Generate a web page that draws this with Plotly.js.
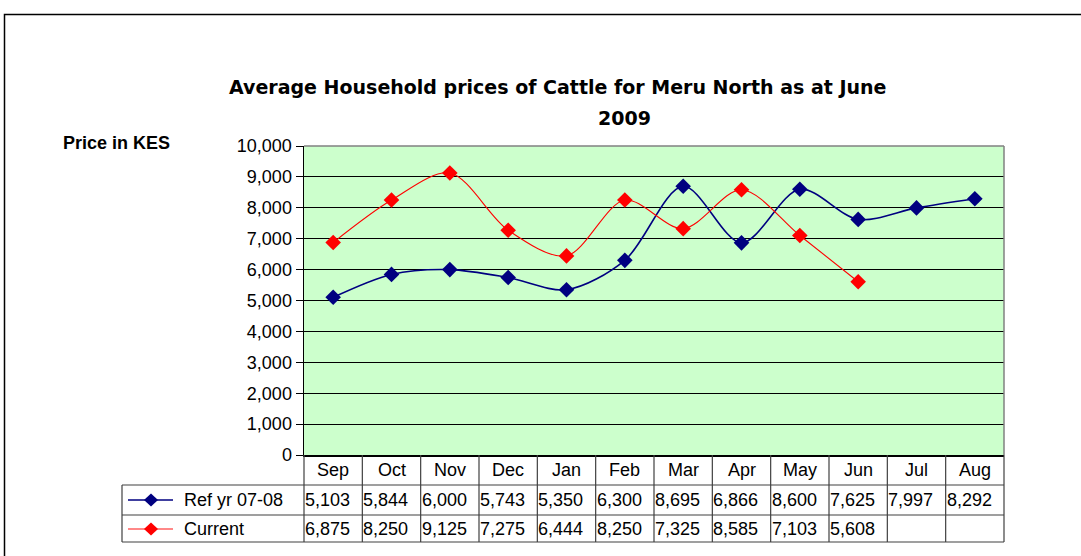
<!DOCTYPE html>
<html>
<head>
<meta charset="utf-8">
<script src="https://cdn.plot.ly/plotly-3.0.1.min.js"></script>
<style>
html,body{margin:0;padding:0;background:#fff;}
#chart{width:1081px;height:556px;}
</style>
</head>
<body>
<div id="chart"></div>
<script>
// ---- data ----
const months = ['Sep','Oct','Nov','Dec','Jan','Feb','Mar','Apr','May','Jun','Jul','Aug'];
const refValues = [5103,5844,6000,5743,5350,6300,8695,6866,8600,7625,7997,8292];
const currentValues = [6875,8250,9125,7275,6444,8250,7325,8585,7103,5608,null,null];
const seriesNames = ['Ref yr 07-08','Current'];
const seriesColors = ['#000080','#FF0000'];
const titleLine1 = 'Average Household prices of Cattle for Meru North as at June';
const titleLine2 = '2009';
const yTitle = 'Price in KES';

// ---- geometry helpers ----
const W = 1081, H = 556;
const L = 304, R = 1004, T = 146, B = 455;
const pw = R - L, ph = B - T;
const px = x => (x - L) / pw;
const py = y => (B - y) / ph;

const font = 'Liberation Sans, Arial, sans-serif';
const fs = 18;
const annotations = [];
const shapes = [];

// title
annotations.push({xref:'paper',yref:'paper',x:px(557),y:py(87),text:'<b>'+titleLine1+'</b>',showarrow:false,
  font:{family:'DejaVu Sans, sans-serif',size:19,color:'#000'},xanchor:'center',yanchor:'middle'});
annotations.push({xref:'paper',yref:'paper',x:px(624),y:py(118),text:'<b>'+titleLine2+'</b>',showarrow:false,
  font:{family:'DejaVu Sans, sans-serif',size:19,color:'#000'},xanchor:'center',yanchor:'middle'});
// y title
annotations.push({xref:'paper',yref:'paper',x:px(61),y:py(143),text:'<b>'+yTitle+'</b>',showarrow:false,
  font:{family:font,size:fs,color:'#000'},xanchor:'left',yanchor:'middle'});

// outer border
shapes.push({type:'rect',xref:'paper',yref:'paper',x0:px(4.5),y0:py(14.5),x1:px(1090),y1:py(570),
  line:{color:'#000',width:1.5},fillcolor:'rgba(0,0,0,0)',layer:'below'});

// table
const tableColor = '#404040';
const n = months.length;
[485,515,542].forEach(yy=>{
  shapes.push({type:'line',xref:'paper',yref:'paper',x0:px(122),x1:1,y0:py(yy),y1:py(yy),line:{color:tableColor,width:1.2}});
});
shapes.push({type:'line',xref:'paper',yref:'paper',x0:px(122),x1:px(122),y0:py(485),y1:py(542),line:{color:tableColor,width:1.2}});
for (let k = 0; k <= n; k++) {
  shapes.push({type:'line',xref:'paper',yref:'paper',x0:k/n,x1:k/n,y0:py(455),y1:py(542),line:{color:tableColor,width:1.2}});
}
// header labels
months.forEach((m,i)=>{
  annotations.push({xref:'x',yref:'paper',x:i,y:py(470),text:m,showarrow:false,
    font:{family:font,size:fs,color:'#000'},xanchor:'center',yanchor:'middle'});
});
const fmt = v => v==null ? '' : v.toLocaleString('en-US');
[refValues,currentValues].forEach((vals,r)=>{
  const yc = r===0 ? 500 : 529;
  vals.forEach((v,i)=>{
    if (v==null) return;
    annotations.push({xref:'x',yref:'paper',x:i-0.5,xshift:-1,y:py(yc),text:fmt(v),showarrow:false,
      font:{family:font,size:fs,color:'#000'},xanchor:'left',yanchor:'middle'});
  });
  // legend key
  shapes.push({type:'line',xref:'paper',yref:'paper',x0:px(128),x1:px(173),y0:py(yc),y1:py(yc),
    line:{color:r===0?seriesColors[0]:'#FF6060',width:1.3}});
  const cx = 151, hw = 7, hh = 6.5;
  shapes.push({type:'path',xref:'paper',yref:'paper',
    path:`M ${px(cx-hw)} ${py(yc)} L ${px(cx)} ${py(yc-hh)} L ${px(cx+hw)} ${py(yc)} L ${px(cx)} ${py(yc+hh)} Z`,
    fillcolor:seriesColors[r],line:{width:0}});
  annotations.push({xref:'paper',yref:'paper',x:px(182),y:py(yc),text:seriesNames[r],showarrow:false,
    font:{family:font,size:fs,color:'#000'},xanchor:'left',yanchor:'middle'});
});

// plot top/right gray border
shapes.push({type:'line',xref:'paper',yref:'paper',x0:0,x1:1,y0:1,y1:1,line:{color:'#808080',width:1.5}});
shapes.push({type:'line',xref:'paper',yref:'paper',x0:1,x1:1,y0:0,y1:1,line:{color:'#808080',width:1.5}});

const traces = [
  {x:months,y:refValues,name:seriesNames[0],type:'scatter',mode:'lines+markers',
   line:{color:seriesColors[0],width:1.6,shape:'spline',smoothing:0.9},
   marker:{symbol:'diamond',size:12,color:seriesColors[0]},cliponaxis:false},
  {x:months,y:currentValues,name:seriesNames[1],type:'scatter',mode:'lines+markers',
   line:{color:seriesColors[1],width:1.1,shape:'spline',smoothing:0.9},
   marker:{symbol:'diamond',size:12,color:seriesColors[1]},cliponaxis:false}
];

const layout = {
  width:W,height:H,
  margin:{l:L,r:W-R,t:T,b:H-B,pad:0},
  paper_bgcolor:'#ffffff',plot_bgcolor:'#CCFFCC',
  showlegend:false,
  xaxis:{type:'category',range:[-0.5,n-0.5],showticklabels:false,ticks:'',showgrid:false,
    showline:true,linecolor:'#000',linewidth:1.5,zeroline:false,fixedrange:true},
  yaxis:{range:[0,10000],dtick:1000,tickformat:',d',ticks:'outside',ticklen:7,tickcolor:'#000',tickwidth:1,
    showgrid:true,gridcolor:'#000',gridwidth:1,showline:true,linecolor:'#000',linewidth:1.5,zeroline:false,
    tickfont:{family:font,size:fs,color:'#000'},fixedrange:true},
  annotations:annotations,
  shapes:shapes
};

Plotly.newPlot('chart',traces,layout,{displayModeBar:false,staticPlot:true});
</script>
</body>
</html>
